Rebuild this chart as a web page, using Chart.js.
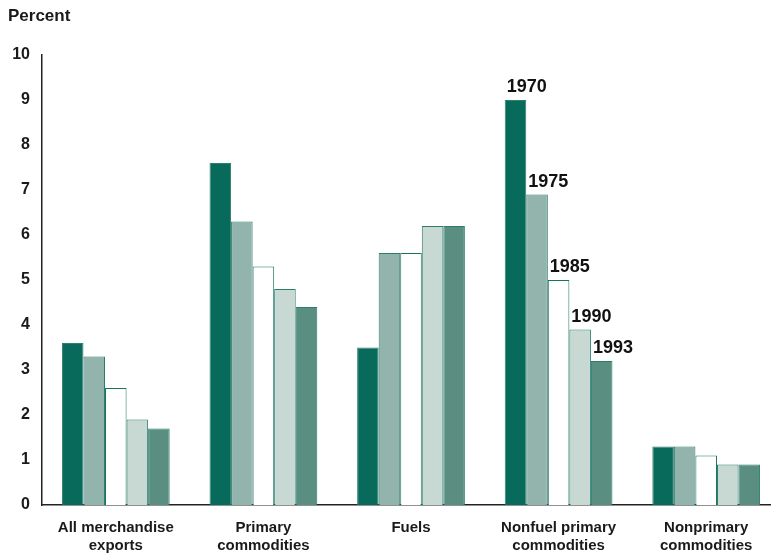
<!DOCTYPE html>
<html>
<head>
<meta charset="utf-8">
<script src="https://cdn.jsdelivr.net/npm/chart.js@4"></script>
<style>
    html, body { margin: 0; padding: 0; background: #fff; overflow: hidden; }
    #wrap { position: relative; width: 782px; height: 555px; }
    #unit {
        position: absolute; left: 8px; top: 6px;
        font: bold 17px 'Liberation Sans', Arial, sans-serif; color: #1a1a1a;
    }
</style>
</head>
<body>
<div id="wrap">
    <div id="unit">Percent</div>
    <canvas id="chart" width="782" height="555"></canvas>
</div>
<script>
// Categories and series (percent)
const categories = [
    ['All merchandise', 'exports'],
    ['Primary', 'commodities'],
    'Fuels',
    ['Nonfuel primary', 'commodities'],
    ['Nonprimary', 'commodities']
];
const years = ['1970', '1975', '1985', '1990', '1993'];
const values1970 = [3.6, 7.6, 3.5, 9.0, 1.3];
const values1975 = [3.3, 6.3, 5.6, 6.9, 1.3];
const values1985 = [2.6, 5.3, 5.6, 5.0, 1.1];
const values1990 = [1.9, 4.8, 6.2, 3.9, 0.9];
const values1993 = [1.7, 4.4, 6.2, 3.2, 0.9];
const yTicks = [0, 1, 2, 3, 4, 5, 6, 7, 8, 9, 10];

const fills = ['#076a5a', '#93b4ad', '#ffffff', '#c8d8d3', '#5a8e80'];
const borders = ['#2f7f6f', '#2a7c6b', '#16745f', '#2a7c6b', '#2a7c6b'];
const LABELLED = 3; // year labels sit on the nonfuel primary group

const FONT = "'Liberation Sans', Arial, sans-serif";

const yearLabels = {
    id: 'yearLabels',
    afterDatasetsDraw(chart) {
        const ctx = chart.ctx;
        ctx.save();
        ctx.font = 'bold 18px ' + FONT;
        ctx.fillStyle = '#111';
        ctx.textAlign = 'left';
        ctx.textBaseline = 'alphabetic';
        chart.data.datasets.forEach((ds, i) => {
            const bar = chart.getDatasetMeta(i).data[LABELLED];
            const left = bar.x - bar.width / 2;
            ctx.fillText(ds.label, left + 2, bar.y - 8);
        });
        ctx.restore();
    }
};

const seriesValues = [values1970, values1975, values1985, values1990, values1993];

new Chart(document.getElementById('chart'), {
    type: 'bar',
    data: {
        labels: categories,
        datasets: years.map((y, i) => ({
            label: y,
            data: seriesValues[i],
            backgroundColor: fills[i],
            borderColor: borders[i],
            borderWidth: 1,
            borderSkipped: 'bottom',
            categoryPercentage: 0.73,
            barPercentage: 1.0
        }))
    },
    options: {
        responsive: false,
        animation: false,
        layout: { padding: { top: 55, right: 2, left: 2, bottom: 0 } },
        plugins: {
            legend: { display: false },
            tooltip: { enabled: false }
        },
        scales: {
            x: {
                grid: { display: false, drawTicks: false },
                border: { display: true, color: '#222', width: 1.5 },
                ticks: {
                    color: '#1a1a1a',
                    font: { family: FONT, size: 15, weight: 'bold', lineHeight: 1.2 },
                    padding: 14,
                    maxRotation: 0,
                    autoSkip: false
                },
                afterFit(scale) { scale.height = 50; }
            },
            y: {
                min: 0,
                max: 10,
                afterBuildTicks(scale) { scale.ticks = yTicks.map(v => ({ value: v })); },
                grid: { display: false, drawTicks: false },
                border: { display: true, color: '#222', width: 1.5 },
                ticks: {
                    color: '#1a1a1a',
                    font: { family: FONT, size: 16, weight: 'bold' },
                    padding: 12
                },
                afterFit(scale) { scale.width = 40; }
            }
        }
    },
    plugins: [yearLabels]
});
</script>
</body>
</html>
